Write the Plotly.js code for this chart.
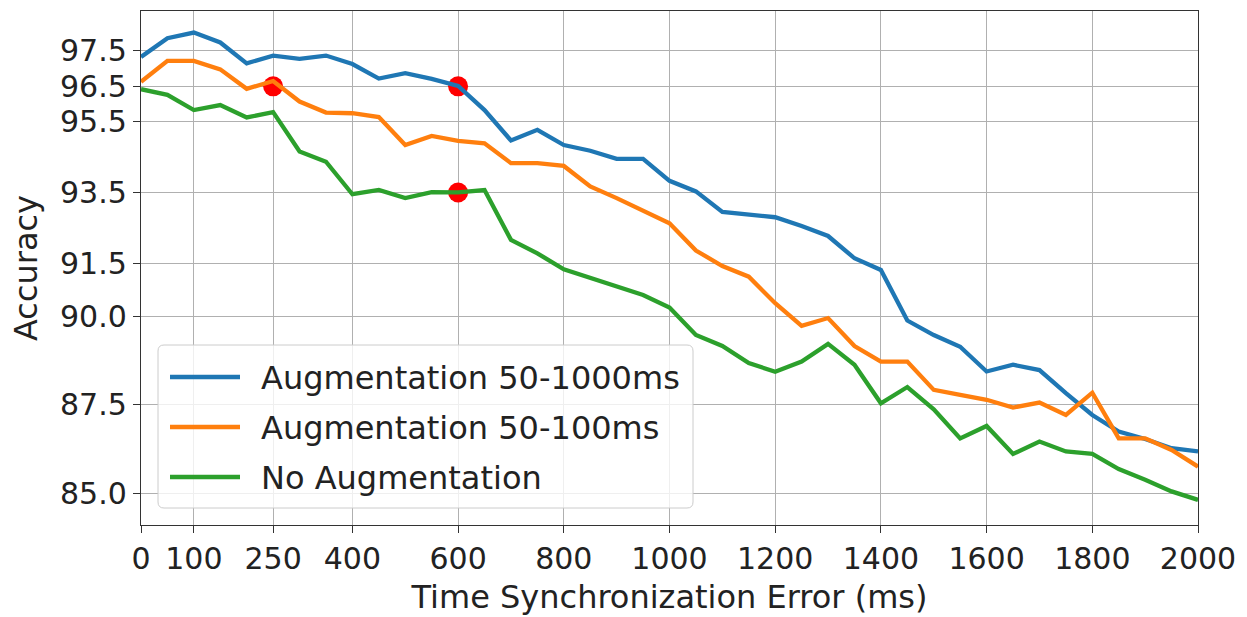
<!DOCTYPE html>
<html>
<head>
<meta charset="utf-8">
<script src="https://cdn.plot.ly/plotly-3.0.1.min.js"></script>
<style>html,body{margin:0;padding:0;background:#fff;}#chart{width:1247px;height:617px;}</style>
</head>
<body>
<div id="chart"></div>
<script>
const timeErrorMs = [0,50,100,150,200,250,300,350,400,450,500,550,600,650,700,750,800,850,900,950,1000,1050,1100,1150,1200,1250,1300,1350,1400,1450,1500,1550,1600,1650,1700,1750,1800,1850,1900,1950,2000];
const aug50to1000 = [97.33,97.86,98.02,97.74,97.15,97.37,97.28,97.37,97.13,96.72,96.87,96.71,96.51,95.83,94.97,95.27,94.84,94.68,94.45,94.45,93.83,93.53,92.95,92.87,92.80,92.55,92.27,91.64,91.31,89.88,89.47,89.14,88.44,88.63,88.48,87.83,87.21,86.74,86.53,86.27,86.18];
const aug50to100 = [96.63,97.22,97.22,96.98,96.43,96.65,96.07,95.76,95.74,95.63,94.84,95.10,94.96,94.89,94.33,94.33,94.25,93.67,93.34,92.98,92.63,91.86,91.42,91.12,90.37,89.73,89.95,89.16,88.72,88.72,87.92,87.78,87.64,87.42,87.56,87.21,87.84,86.55,86.55,86.22,85.75];
const noAug = [96.42,96.26,95.83,95.97,95.62,95.77,94.66,94.37,93.45,93.57,93.34,93.51,93.50,93.57,92.16,91.78,91.33,91.08,90.82,90.60,90.25,89.47,89.16,88.68,88.43,88.72,89.22,88.63,87.54,88.00,87.37,86.55,86.90,86.11,86.46,86.18,86.11,85.68,85.38,85.05,84.81];
const highlightX = [250,600,600];
const highlightY = [96.5,96.5,93.5];
const xTicks = [0,100,250,400,600,800,1000,1200,1400,1600,1800,2000];
const yTicks = [85.0,87.5,90.0,91.5,93.5,95.5,96.5,97.5];
const yTickText = ['85.0','87.5','90.0','91.5','93.5','95.5','96.5','97.5'];
const seriesNames = ['Augmentation 50-1000ms','Augmentation 50-100ms','No Augmentation'];
const seriesColors = ['#1f77b4','#ff7f0e','#2ca02c'];
const seriesValues = [aug50to1000, aug50to100, noAug];

const font = 'DejaVu Sans, sans-serif';
const W = 1247, H = 617, ML = 141, MR = 49, MT = 11, MB = 92;
const PW = W - ML - MR, PH = H - MT - MB;
const px = v => (v - ML) / PW;          // pixel -> paper x
const py = v => (H - MB - v) / PH;      // pixel -> paper y

const traces = [{x: highlightX, y: highlightY, type:'scatter', mode:'markers', name:'highlight',
  marker:{color:'red', size:20}}];
seriesValues.forEach((vals,i)=>traces.push({
  x: timeErrorMs, y: vals, type:'scatter', mode:'lines', name: seriesNames[i],
  line:{color:seriesColors[i], width:4.3}
}));

// legend box (manual, matplotlib-like)
const bx0 = px(158), bx1 = px(693), by0 = py(508), by1 = py(345);
const rx = 6/PW, ry = 6/PH;
const boxPath = `M ${bx0+rx} ${by0} L ${bx1-rx} ${by0} Q ${bx1} ${by0} ${bx1} ${by0+ry} L ${bx1} ${by1-ry} Q ${bx1} ${by1} ${bx1-rx} ${by1} L ${bx0+rx} ${by1} Q ${bx0} ${by1} ${bx0} ${by1-ry} L ${bx0} ${by0+ry} Q ${bx0} ${by0} ${bx0+rx} ${by0} Z`;
const shapes = [{type:'path', xref:'paper', yref:'paper', path: boxPath,
  fillcolor:'rgba(255,255,255,0.8)', line:{color:'#cccccc', width:1}, layer:'above'}];
const annotations = [];
const entryY = [377, 427, 477];
seriesNames.forEach((n,i)=>{
  shapes.push({type:'line', xref:'paper', yref:'paper', x0:px(170), x1:px(240), y0:py(entryY[i]), y1:py(entryY[i]),
    line:{color:seriesColors[i], width:4.3}, layer:'above'});
  annotations.push({xref:'paper', yref:'paper', x:px(259), y:py(entryY[i]+1), xanchor:'left', yanchor:'middle',
    text:n, showarrow:false, font:{family:font, size:32, color:'#222'}});
});

const layout = {
  width:W, height:H,
  margin:{l:ML, r:MR, t:MT, b:MB},
  paper_bgcolor:'#fff', plot_bgcolor:'#fff',
  font:{family:font, size:30, color:'#222'},
  showlegend:false,
  shapes, annotations,
  xaxis:{range:[0,2000], tickvals:xTicks, ticktext:xTicks.map(String), showgrid:true, gridcolor:'#b0b0b0', gridwidth:1,
    zeroline:false, showline:true, linecolor:'#333', linewidth:1.2, mirror:true, ticks:'outside', ticklen:7, tickcolor:'#333',
    tickfont:{family:font, size:30, color:'#222'},
    title:{text:'Time Synchronization Error (ms)', font:{family:font, size:32, color:'#222'}, standoff:10}},
  yaxis:{range:[84.10,98.63], tickvals:yTicks, ticktext:yTickText, showgrid:true, gridcolor:'#b0b0b0', gridwidth:1,
    zeroline:false, showline:true, linecolor:'#333', linewidth:1.2, mirror:true, ticks:'outside', ticklen:7, tickcolor:'#333',
    tickfont:{family:font, size:30, color:'#222'},
    title:{text:'Accuracy', font:{family:font, size:32, color:'#222'}, standoff:12}}
};
Plotly.newPlot('chart', traces, layout, {displayModeBar:false, staticPlot:true});
</script>
</body>
</html>
